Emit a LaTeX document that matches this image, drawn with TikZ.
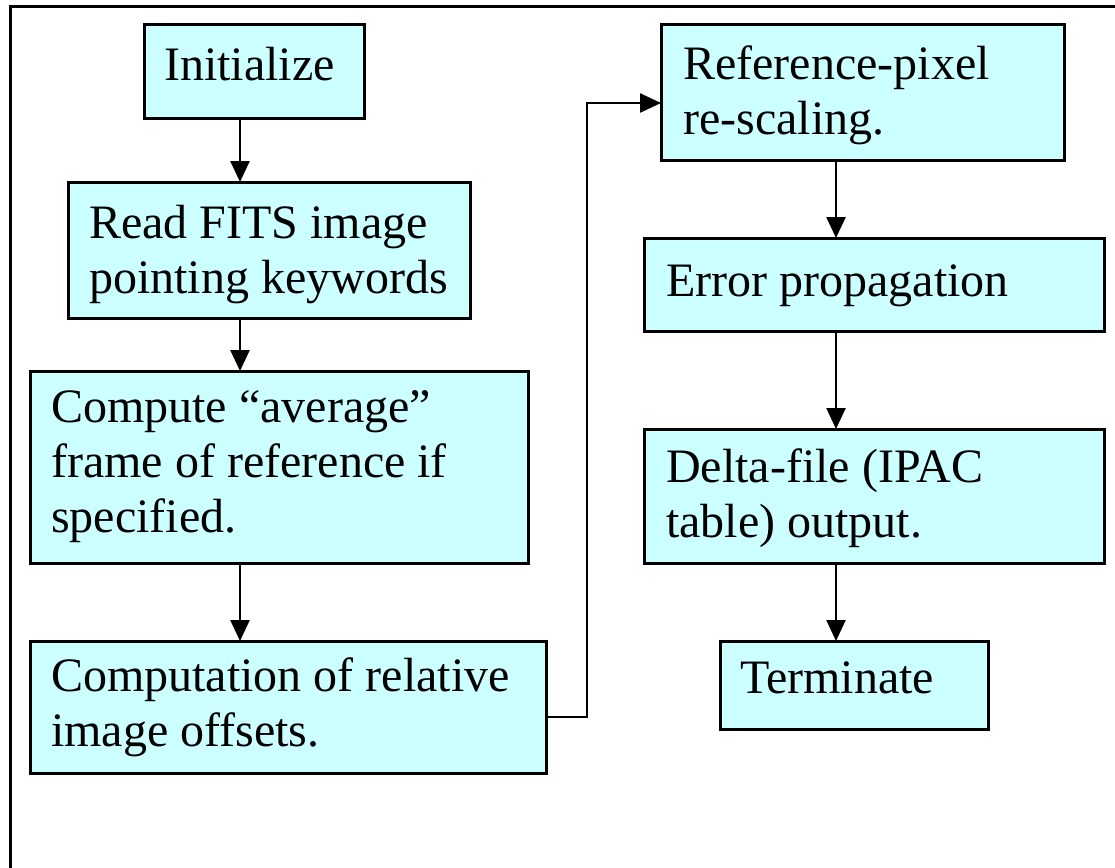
\documentclass[tikz,border=0pt]{standalone}
\usepackage{fontspec}
\setmainfont{Liberation Serif}
\usetikzlibrary{arrows.meta}
\tikzset{
  box/.style={draw, line width=3pt, fill=boxfill, rectangle, inner sep=0pt, outer sep=0pt, anchor=north west},
  txt/.style={anchor=base west, inner sep=0pt, align=left, font=\fontsize{48}{55}\selectfont},
  arr/.style={line width=2.5pt, -{Triangle[length=21pt,width=19pt]}},
  frame/.style={line width=3pt}
}
\definecolor{boxfill}{HTML}{CCFFFF}
\begin{document}
\begin{tikzpicture}[x=1pt,y=-1pt]
\useasboundingbox (0,0) rectangle (1115,867);
\fill[white] (0,0) rectangle (1115,867);
\coordinate (fa) at (10,880);
\coordinate (fb) at (10,7);
\coordinate (fc) at (1130,7);
\draw[frame] (fa) -- (fb) -- (fc);

\node[box, minimum width=220pt, minimum height=93pt] (init) at (144,25) {};
\node[box, minimum width=402pt, minimum height=136pt] (read) at (68,182) {};
\node[box, minimum width=498pt, minimum height=192pt] (avg) at (30,371) {};
\node[box, minimum width=516pt, minimum height=132pt] (comp) at (30,641) {};
\node[box, minimum width=403pt, minimum height=135pt] (ref) at (661,25) {};
\node[box, minimum width=460pt, minimum height=93pt] (err) at (644,238) {};
\node[box, minimum width=460pt, minimum height=134pt] (delta) at (644,429) {};
\node[box, minimum width=268pt, minimum height=88pt] (term) at (720,641) {};

% base anchor of a multi-line node is the baseline of its last line
\node[txt] (initT) at ([shift={(20,55)}]init.north west) {Initialize};
\node[txt] (readT) at ([shift={(21,111)}]read.north west) {Read FITS image\\pointing keywords};
\node[txt] (avgT) at ([shift={(21,161)}]avg.north west) {Compute “average”\\frame of reference if\\specified.};
\node[txt] (compT) at ([shift={(21,105)}]comp.north west) {Computation of relative\\image offsets.};
\node[txt] (refT) at ([shift={(22,109)}]ref.north west) {Reference-pixel\\re-scaling.};
\node[txt] (errT) at ([shift={(22,58)}]err.north west) {Error propagation};
\node[txt] (deltaT) at ([shift={(22,108)}]delta.north west) {Delta-file (IPAC\\table) output.};
\node[txt] (termT) at ([shift={(20,52)}]term.north west) {Terminate};

\coordinate (cl) at (240,0);
\coordinate (cr) at (836,0);
\draw[arr] (init.south -| cl) -- (read.north -| cl);
\draw[arr] (read.south -| cl) -- (avg.north -| cl);
\draw[arr] (avg.south -| cl) -- (comp.north -| cl);
\draw[arr] (ref.south -| cr) -- (err.north -| cr);
\draw[arr] (err.south -| cr) -- (delta.north -| cr);
\draw[arr] (delta.south -| cr) -- (term.north -| cr);

\coordinate (j1) at (587,717);
\coordinate (j2) at (587,103);
\draw[arr] (comp.east |- j1) -- (j1) -- (j2) -- (ref.west |- j2);
\end{tikzpicture}
\end{document}
